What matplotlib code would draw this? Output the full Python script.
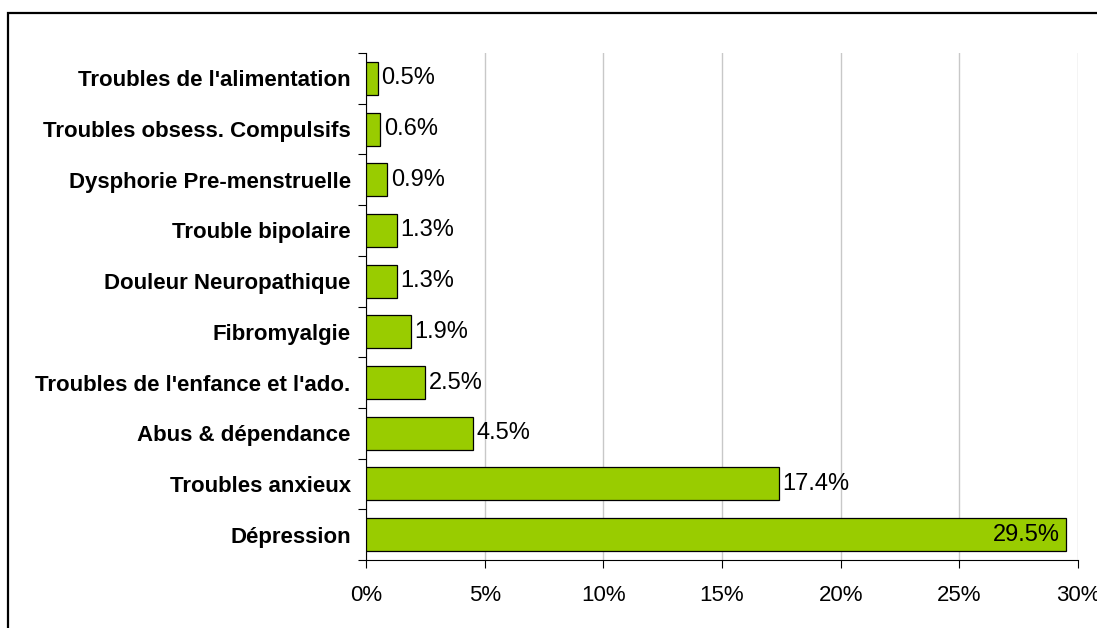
import matplotlib.pyplot as plt
from matplotlib.patches import Rectangle
from matplotlib.ticker import FuncFormatter

plt.rcParams['font.family'] = ['Liberation Sans', 'DejaVu Sans']

categories = [
    "Dépression",
    "Troubles anxieux",
    "Abus & dépendance",
    "Troubles de l'enfance et l'ado.",
    "Fibromyalgie",
    "Douleur Neuropathique",
    "Trouble bipolaire",
    "Dysphorie Pre-menstruelle",
    "Troubles obsess. Compulsifs",
    "Troubles de l'alimentation",
]
values = [29.5, 17.4, 4.5, 2.5, 1.9, 1.3, 1.3, 0.9, 0.6, 0.5]

fig = plt.figure(figsize=(10.97, 6.28), dpi=100)
ax = fig.add_axes([366 / 1097, 1 - 560 / 628, (1078 - 366) / 1097, (560 - 53) / 628])

pos = list(range(len(categories)))
ax.barh(pos, values, height=0.65, color="#99CC00", edgecolor="black", linewidth=0.9, zorder=3)

# étiquettes de valeur
for p, v in zip(pos, values):
    if v > 25:
        ax.text(v - 0.25, p, f"{v:.1f}%", va="center", ha="right", fontsize=17, zorder=4)
    else:
        ax.text(v + 0.15, p, f"{v:.1f}%", va="center", ha="left", fontsize=17, zorder=4)

ax.set_xlim(0, 30)
ax.set_ylim(-0.5, 9.5)
ax.set_xticks([0, 5, 10, 15, 20, 25, 30])
ax.xaxis.set_major_formatter(FuncFormatter(lambda x, _: f"{x:.0f}%"))
ax.set_yticks(pos)
ax.set_yticklabels(categories, fontweight="bold", fontsize=16)
ax.set_yticks([i - 0.5 for i in range(len(categories) + 1)], minor=True)
ax.tick_params(axis="y", which="major", length=0, pad=11)
ax.tick_params(axis="y", which="minor", length=6, width=0.8, direction="out")
ax.tick_params(axis="x", length=6, width=0.8, labelsize=16, pad=12)
ax.grid(axis="x", color="#c8c8c8", linewidth=1, zorder=0)
ax.spines["top"].set_visible(False)
ax.spines["right"].set_visible(False)
ax.spines["left"].set_linewidth(0.8)
ax.spines["bottom"].set_linewidth(0.8)

# cadre
fig.patches.append(Rectangle((8 / 1097, -0.05), 1.1, 1 - 13 / 628 + 0.05,
                             transform=fig.transFigure, fill=False,
                             edgecolor="black", linewidth=1.6))

fig.savefig("out.png", dpi=100)
